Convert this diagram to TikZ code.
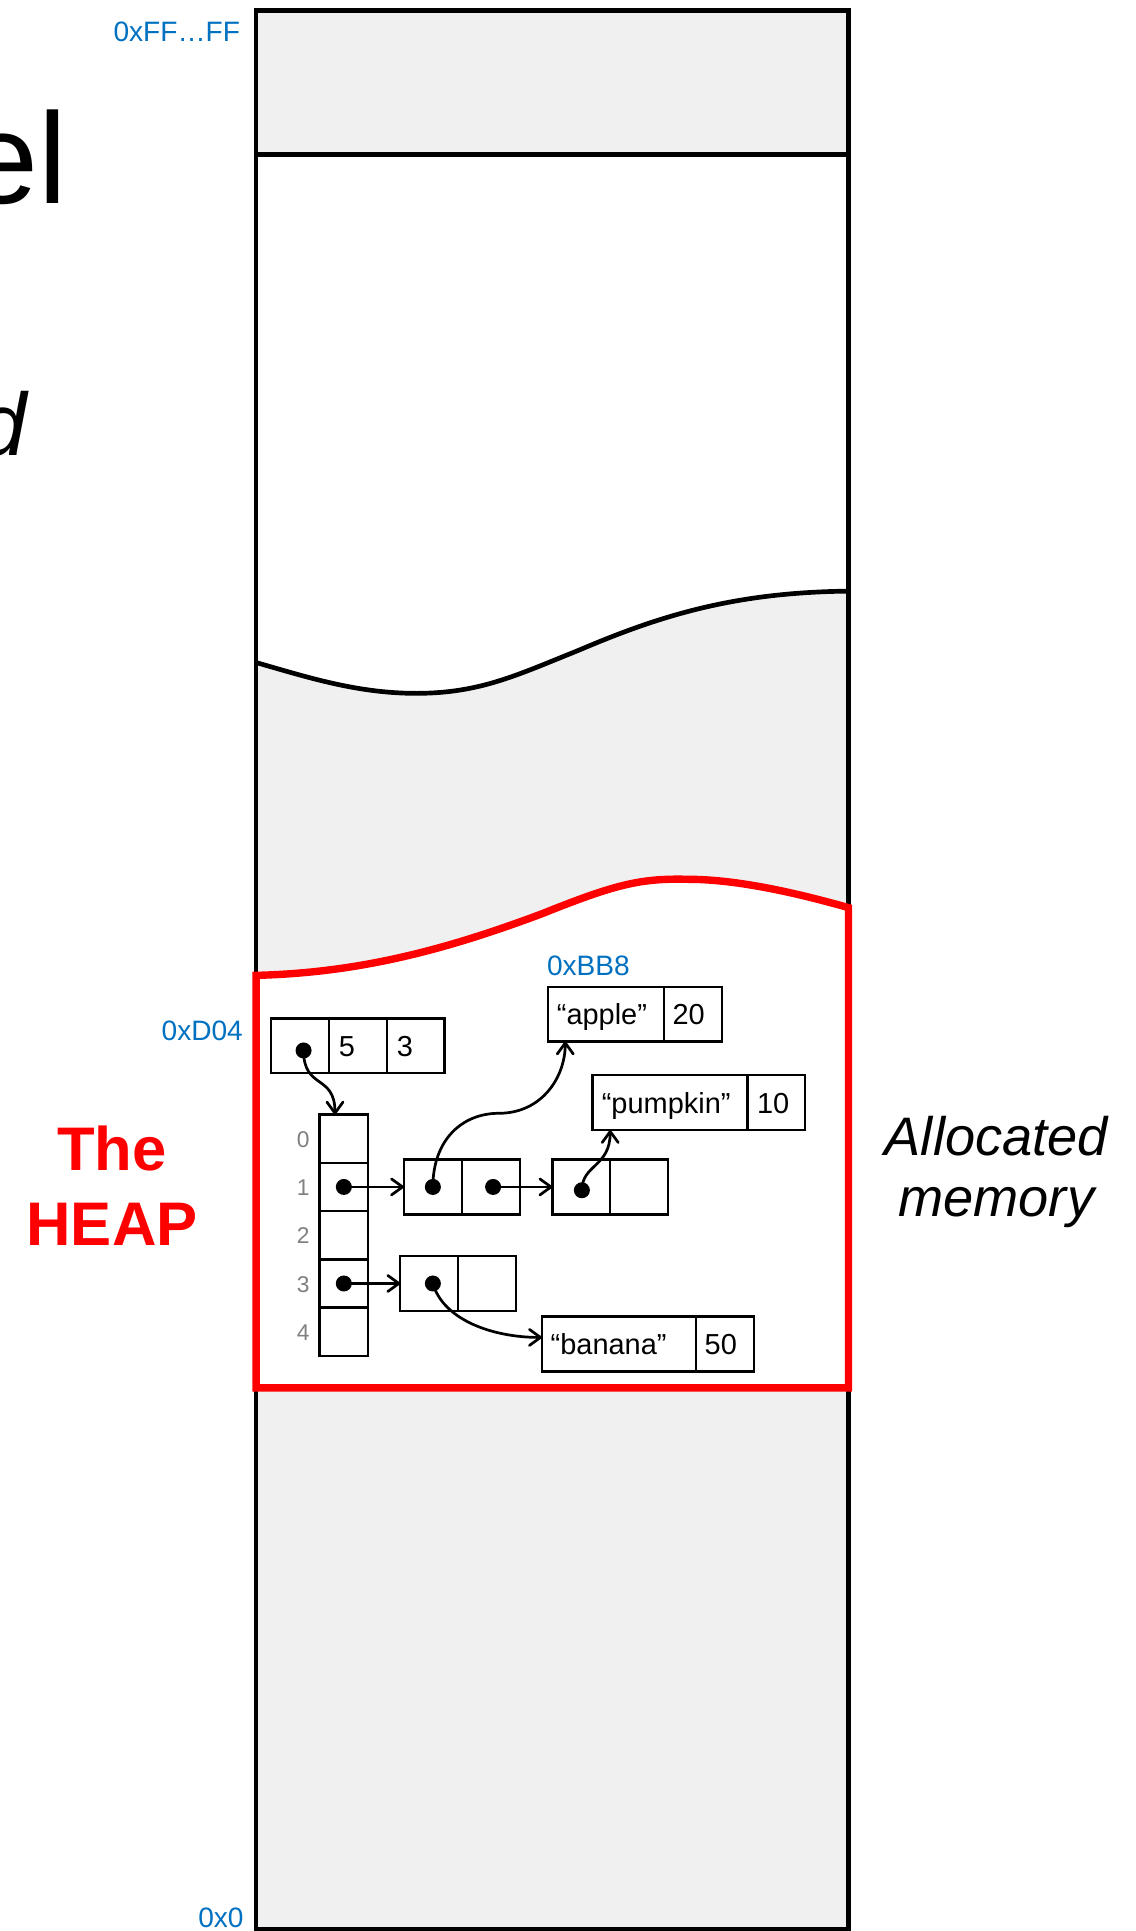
\documentclass[tikz,border=0pt]{standalone}
\usepackage{fontspec}
\setmainfont{Liberation Sans}
\usetikzlibrary{arrows.meta}
\definecolor{memgray}{RGB}{240,240,240}
\definecolor{addrblue}{RGB}{0,112,192}
\definecolor{idxgray}{RGB}{128,128,128}
\definecolor{heapred}{RGB}{255,0,0}
\begin{document}
\begin{tikzpicture}[x=1pt,y=-1pt,
  cellbox/.style={draw=black,line width=1.9pt,fill=white,minimum height=44.5pt,inner sep=0pt,outer sep=0pt},
  dotn/.style={circle,fill=black,inner sep=0pt,minimum size=13pt},
  ptr/.style={line width=2.2pt,line join=round,-{Straight Barb[length=9pt,width=13pt,line join=round,line cap=round]}},
  celltxt/.style={font=\fontsize{23.5}{27}\selectfont,inner sep=0pt,anchor=base west},
  addr/.style={font=\fontsize{22.8}{26}\selectfont,text=addrblue,inner sep=0pt},
  idx/.style={font=\fontsize{18.5}{22}\selectfont,text=idxgray,inner sep=0pt,anchor=base},
  memline/.style={line width=3.8pt},
]
\useasboundingbox (0,0) rectangle (922,1568);
\clip (0,0) rectangle (922,1568);

% --- memory column ---
\fill[memgray] (208,8.7) rectangle (689,1566.5);
\fill[white] (208,125.5) -- (208,538) .. controls (250,550) and (290,563) .. (338,563)
   .. controls (390,563) and (420,548) .. (470,528)
   .. controls (540,498) and (600,481) .. (689,480) -- (689,125.5) -- cycle;
\draw[memline] (208,538) .. controls (250,550) and (290,563) .. (338,563)
   .. controls (390,563) and (420,548) .. (470,528)
   .. controls (540,498) and (600,481) .. (689,480);
\draw[memline] (208,125.5) -- (689,125.5);
\draw[memline] (208,8.7) rectangle (689,1566.5);

% --- heap region ---
\filldraw[fill=white,draw=heapred,line width=6pt]
   (208,792) .. controls (290,790) and (360,772) .. (440,742)
   .. controls (500,718) and (520,713) .. (559,714)
   .. controls (600,714) and (650,726) .. (689,737)
   -- (689,1127) -- (208,1127) -- cycle;

% --- side texts ---
\node[font=\fontsize{105}{110}\selectfont,inner sep=0pt,anchor=base east] (eltxt) at (55,165) {el};
\node[font=\itshape\fontsize{72}{80}\selectfont,inner sep=0pt,anchor=base east] (dtxt) at (22,370) {d};
\node[font=\bfseries\fontsize{50}{56}\selectfont,text=heapred,inner sep=0pt,anchor=base] (heap1) at (91,950.5) {The};
\node[font=\bfseries\fontsize{50}{56}\selectfont,text=heapred,inner sep=0pt,anchor=base] (heap2) at (91,1011) {HEAP};
\node[font=\itshape\fontsize{44}{50}\selectfont,inner sep=0pt,anchor=base] (alloc1) at (809,938) {Allocated};
\node[font=\itshape\fontsize{44}{50}\selectfont,inner sep=0pt,anchor=base] (alloc2) at (809,988) {memory};

% --- addresses ---
\node[addr,anchor=base east] (aFF) at (195,34) {0xFF…FF};
\node[addr,anchor=base east] (aD04) at (197.4,845) {0xD04};
\node[addr,anchor=base east] (a00) at (198,1565) {0x0};
\node[addr,anchor=base west] (aBB8) at (444,792) {0xBB8};

% --- top struct ---
\node[cellbox,minimum width=47pt] (s0) at (243.5,849.2) {};
\node[cellbox,minimum width=47pt] (s1) at (290.5,849.2) {};
\node[cellbox,minimum width=47pt] (s2) at (337.5,849.2) {};
\node[celltxt] (t5) at (275,857.6) {5};
\node[celltxt] (t3) at (322,857.6) {3};

% --- array ---
\foreach \i/\yy in {0/924.6,1/963.8,2/1003,3/1042.2,4/1081.4}{
  \node[cellbox,minimum width=39.5pt,minimum height=39.2pt] (a\i) at (279.2,\yy) {};
  \node[idx] (ix\i) at (246.3,\yy+7) {\i};
}

% --- list nodes ---
\node[cellbox,minimum width=47pt] (n1a) at (351.5,963.8) {};
\node[cellbox,minimum width=47pt] (n1b) at (398.5,963.8) {};
\node[cellbox,minimum width=47pt] (n2a) at (472,963.8) {};
\node[cellbox,minimum width=47pt] (n2b) at (519,963.8) {};
\node[cellbox,minimum width=47pt] (n3a) at (348.5,1042.2) {};
\node[cellbox,minimum width=47pt] (n3b) at (395.5,1042.2) {};

% --- string entries ---
\node[cellbox,minimum width=94pt] (ap1) at (492,823.5) {};
\node[cellbox,minimum width=47pt] (ap2) at (562.5,823.5) {};
\node[celltxt] (tap) at (452,831.9) {“apple”};
\node[celltxt] (t20) at (546,831.9) {20};
\node[cellbox,minimum width=126pt] (pk1) at (544,895.4) {};
\node[cellbox,minimum width=46.5pt] (pk2) at (630.25,895.4) {};
\node[celltxt] (tpk) at (488.5,903.8) {“pumpkin”};
\node[celltxt] (t10) at (614.5,903.8) {10};
\node[cellbox,minimum width=125pt] (bn1) at (502.5,1091.3) {};
\node[cellbox,minimum width=47pt] (bn2) at (588.5,1091.3) {};
\node[celltxt] (tbn) at (447,1099.7) {“banana”};
\node[celltxt] (t50) at (572,1099.7) {50};

% --- pointer dots ---
\node[dotn] (ds0) at (246.5,853) {};
\node[dotn] (da1) at (279.2,963.8) {};
\node[dotn] (da3) at (279.2,1042.2) {};
\node[dotn] (dn1a) at (351.5,963.8) {};
\node[dotn] (dn1b) at (400.4,963.8) {};
\node[dotn] (dn2a) at (472.5,966.5) {};
\node[dotn] (dn3a) at (351.5,1042.2) {};

% --- connector end points ---
\coordinate (a0t) at (272,905);
\coordinate (m1) at (405,904);
\coordinate (aptip) at (459,845.75);
\coordinate (pktip) at (495.5,917.65);
\coordinate (bntip) at (440,1086);

% --- connectors ---
\draw[ptr] (ds0.center) .. controls +(0,32) and +(0,-33) .. (a0t);
\draw[ptr] (da1.center) -- (n1a.west);
\draw[ptr] (dn1b.center) -- (n2a.west);
\draw[ptr] (da3.center) -- (n3a.west);
\draw[ptr] (dn1a.center) .. controls +(0,-38) and +(-30,0) .. (m1)
   .. controls +(35,0) and +(0,29) .. (aptip);
\draw[ptr] (dn2a.center) .. controls +(0,-21) and +(0,30) .. (pktip);
\draw[ptr] (dn3a.center) .. controls +(8.5,29.6) and +(-40,0) .. (bntip);
\end{tikzpicture}
\end{document}
